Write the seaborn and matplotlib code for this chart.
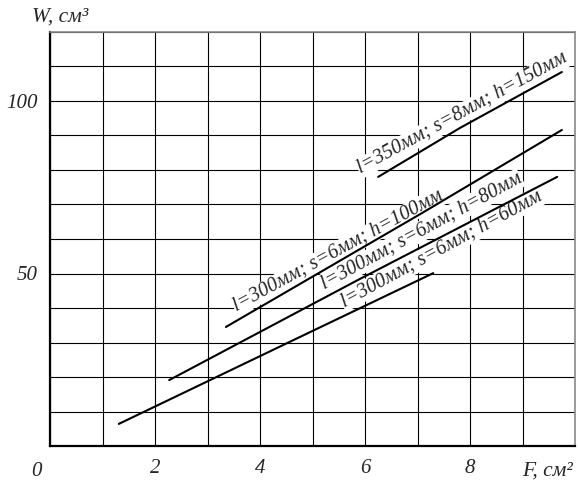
import numpy as np
import pandas as pd
import seaborn as sns
import matplotlib.pyplot as plt

# curves W(F)
F_150 = [6.25, 7.81, 9.75]
W_150 = [78.0, 92.2, 108.4]
F_100 = [3.35, 7.05, 9.75]
W_100 = [34.5, 67.2, 91.6]
F_80 = [2.27, 5.90, 9.66]
W_80 = [19.1, 48.4, 78.0]
F_60 = [1.31, 4.76, 7.30]
W_60 = [6.4, 31.6, 50.1]

labels = ["l=350мм; s=8мм; h=150мм",
          "l=300мм; s=6мм; h=100мм",
          "l=300мм; s=6мм; h=80мм",
          "l=300мм; s=6мм; h=60мм"]
label_F = [5.92, 3.55, 5.22, 5.60]
label_W = [79.0, 39.0, 45.5, 40.3]

x_ticks = list(range(0, 11))
x_ticklabels = ['', '', '2', '', '4', '', '6', '', '8', '', '']
y_ticks = list(range(0, 121, 10))
y_ticklabels = ['' if v not in (50, 100) else str(v) for v in y_ticks]

frames = []
for name, f, w in [('150', F_150, W_150), ('100', F_100, W_100),
                   ('80', F_80, W_80), ('60', F_60, W_60)]:
    frames.append(pd.DataFrame({'F': f, 'W': w, 'curve': name}))
df = pd.concat(frames, ignore_index=True)

sns.set_style('white')
plt.rcParams['font.family'] = ['Liberation Serif', 'DejaVu Serif']

fig = plt.figure(figsize=(5.78, 4.86), dpi=100)
ax = fig.add_axes([50/578, 40/486, 525/578, 414/486])

for name, sub in df.groupby('curve', sort=False):
    sns.lineplot(data=sub, x='F', y='W', ax=ax, color='black', lw=1.5,
                 sort=False, estimator=None, legend=False, zorder=3)

ax.set_xlim(0, 10)
ax.set_ylim(0, 120)
ax.set_xticks(x_ticks)
ax.set_xticklabels(x_ticklabels, fontsize=15, fontstyle='italic')
ax.set_yticks(y_ticks)
ax.set_yticklabels(y_ticklabels, fontsize=15, fontstyle='italic')
ax.tick_params(length=0, pad=9)
ax.grid(True, color='black', lw=0.8, zorder=0)
ax.set_axisbelow(True)
ax.set_xlabel('')
ax.set_ylabel('')

for side in ['left', 'bottom']:
    ax.spines[side].set_color('black')
    ax.spines[side].set_linewidth(1.6)
for side in ['top', 'right']:
    ax.spines[side].set_color('#8a8a8a')
    ax.spines[side].set_linewidth(1.2)

for txt, f, w in zip(labels, label_F, label_W):
    ax.text(f, w, txt, fontsize=14.5, fontstyle='italic', rotation=28.5,
            rotation_mode='anchor', ha='left', va='baseline', zorder=2.5,
            bbox=dict(facecolor='white', edgecolor='none', pad=0.5))

ax.text(-0.25, -4.5, '0', fontsize=15, fontstyle='italic',
        ha='center', va='top')
fig.text(32/578, 1 - 17/486, 'W, см³', fontsize=15.5, fontstyle='italic',
         ha='left', va='center')
fig.text(522/578, 1 - 471/486, 'F, см²', fontsize=15.5, fontstyle='italic',
         ha='left', va='center')

fig.savefig('out.png', dpi=100)
